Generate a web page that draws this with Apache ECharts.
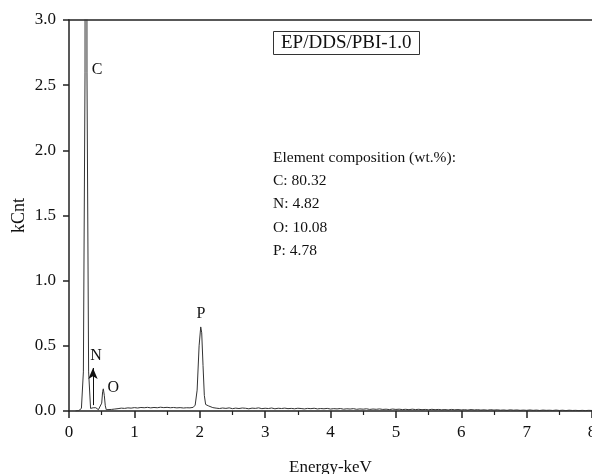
<!DOCTYPE html>
<html>
<head>
<meta charset="utf-8">
<script src="https://cdn.jsdelivr.net/npm/echarts@6/dist/echarts.min.js"></script>
<style>
  html, body { margin: 0; padding: 0; background: #fff; }
  #chart { width: 592px; height: 474px; }
</style>
</head>
<body>
<div id="chart"></div>
<script>
// EDS spectrum of EP/DDS/PBI-1.0: energy (keV) and counts (kCnt)
const energyKeV = [
  0.10, 0.15, 0.19, 0.22, 0.245, 0.26, 0.275, 0.30, 0.33, 0.35,
  0.37, 0.39, 0.41, 0.43, 0.45, 0.48, 0.50, 0.515, 0.525, 0.54,
  0.555, 0.57, 0.60, 0.65, 0.70, 0.75, 0.80, 0.85, 0.90, 0.95,
  1.00, 1.05, 1.10, 1.15, 1.20, 1.25, 1.30, 1.35, 1.40, 1.45,
  1.50, 1.55, 1.60, 1.65, 1.70, 1.75, 1.80, 1.85, 1.90, 1.93,
  1.96, 1.99, 2.015, 2.03, 2.05, 2.07, 2.09, 2.11, 2.13, 2.16,
  2.20, 2.25, 2.30, 2.35, 2.40, 2.45, 2.50, 2.55, 2.60, 2.65,
  2.70, 2.75, 2.80, 2.85, 2.90, 2.95, 3.00, 3.05, 3.10, 3.15,
  3.20, 3.25, 3.30, 3.35, 3.40, 3.45, 3.50, 3.55, 3.60, 3.65,
  3.70, 3.75, 3.80, 3.85, 3.90, 3.95, 4.00, 4.05, 4.10, 4.15,
  4.20, 4.25, 4.30, 4.35, 4.40, 4.45, 4.50, 4.55, 4.60, 4.65,
  4.70, 4.75, 4.80, 4.85, 4.90, 4.95, 5.00, 5.05, 5.10, 5.15,
  5.20, 5.25, 5.30, 5.35, 5.40, 5.45, 5.50, 5.55, 5.60, 5.65,
  5.70, 5.75, 5.80, 5.85, 5.90, 5.95, 6.00, 6.05, 6.10, 6.15,
  6.20, 6.25, 6.30, 6.35, 6.40, 6.45, 6.50, 6.55, 6.60, 6.65,
  6.70, 6.75, 6.80, 6.85, 6.90, 6.95, 7.00, 7.05, 7.10, 7.15,
  7.20, 7.25, 7.30, 7.35, 7.40, 7.45, 7.50, 7.55, 7.60, 7.65,
  7.70, 7.75, 7.80, 7.85, 7.90, 7.95, 8.00
];
const countsKCnt = [
  0.000, 0.003, 0.020, 0.300, 2.600, 14.00, 2.600, 0.300, 0.020, 0.012,
  0.025, 0.035, 0.025, 0.012, 0.010, 0.010, 0.060, 0.150, 0.170, 0.120,
  0.040, 0.010, 0.008, 0.012, 0.015, 0.018, 0.022, 0.020, 0.024, 0.022,
  0.026, 0.023, 0.027, 0.025, 0.028, 0.024, 0.027, 0.025, 0.029, 0.026,
  0.028, 0.025, 0.027, 0.024, 0.026, 0.023, 0.025, 0.024, 0.028, 0.045,
  0.160, 0.500, 0.645, 0.600, 0.350, 0.120, 0.050, 0.045, 0.040, 0.030,
  0.026, 0.022, 0.019, 0.023, 0.020, 0.024, 0.018, 0.022, 0.019, 0.023,
  0.021, 0.017, 0.022, 0.020, 0.024, 0.018, 0.021, 0.019, 0.023, 0.017,
  0.021, 0.019, 0.022, 0.018, 0.020, 0.017, 0.021, 0.019, 0.016, 0.020,
  0.018, 0.021, 0.016, 0.019, 0.017, 0.020, 0.015, 0.018, 0.016, 0.019,
  0.014, 0.017, 0.015, 0.018, 0.013, 0.016, 0.014, 0.017, 0.012, 0.015,
  0.013, 0.016, 0.012, 0.014, 0.011, 0.015, 0.012, 0.014, 0.011, 0.013,
  0.010, 0.014, 0.011, 0.013, 0.010, 0.012, 0.009, 0.013, 0.010, 0.012,
  0.009, 0.011, 0.008, 0.012, 0.009, 0.011, 0.008, 0.010, 0.007, 0.011,
  0.008, 0.010, 0.007, 0.009, 0.006, 0.010, 0.007, 0.009, 0.006, 0.008,
  0.005, 0.009, 0.006, 0.008, 0.005, 0.007, 0.005, 0.008, 0.005, 0.007,
  0.004, 0.007, 0.005, 0.006, 0.004, 0.007, 0.004, 0.006, 0.003, 0.006,
  0.004, 0.005, 0.003, 0.005, 0.003, 0.005, 0.004
];

// Peak labels: element, line energy (keV) and label height (kCnt)
const peakElements = ['C', 'N', 'O', 'P'];
const peakEnergies = [0.26, 0.367, 0.525, 2.018];
const peakLabelLevels = [2.62, 0.42, 0.18, 0.745];
const peakLabelShift = [11, 3, 10, 0];

// Composition summary (wt.%)
const compElements = ['C', 'N', 'O', 'P'];
const compWeights = ['80.32', '4.82', '10.08', '4.78'];

const sampleName = 'EP/DDS/PBI-1.0';
const xTicks = [0, 8, 1];
const yTicks = [0, 3, 0.5];

const FONT = 'Liberation Serif';
const INK = '#111';

const spectrum = energyKeV.map((e, i) => [e, countsKCnt[i]]);

const compText = ['Element composition (wt.%):']
  .concat(compElements.map((el, i) => el + ': ' + compWeights[i]))
  .join('\n');

const chart = echarts.init(document.getElementById('chart'), null, { renderer: 'canvas' });

chart.setOption({
  backgroundColor: '#fff',
  animation: false,
  title: [
    {
      text: sampleName,
      left: 273, top: 31,
      padding: [2, 8],
      borderColor: '#333', borderWidth: 1,
      textStyle: { fontFamily: FONT, fontSize: 19, fontWeight: 'normal', color: INK, lineHeight: 20 }
    },
    {
      text: compText,
      left: 273, top: 146,
      padding: 0,
      textStyle: { fontFamily: FONT, fontSize: 15.5, fontWeight: 'normal', color: INK, lineHeight: 23.3 }
    }
  ],
  grid: { left: 69, right: 0, top: 20, bottom: 63, containLabel: false, outerBoundsMode: 'none' },
  xAxis: [
    {
      type: 'value', min: xTicks[0], max: xTicks[1], interval: xTicks[2],
      name: 'Energy-keV', nameLocation: 'middle', nameGap: 48, nameMoveOverlap: false,
      nameTextStyle: { fontFamily: FONT, fontSize: 17, color: INK },
      axisLine: { show: true, onZero: false, lineStyle: { color: '#222', width: 1.5 } },
      axisTick: { show: true, inside: false, length: 7, lineStyle: { color: '#222', width: 1.5 } },
      minorTick: { show: true, splitNumber: 2, length: 4, lineStyle: { color: '#222', width: 1.2 } },
      axisLabel: { fontFamily: FONT, fontSize: 17, color: INK, margin: 13 },
      splitLine: { show: false }
    },
    {
      type: 'value', position: 'top', min: xTicks[0], max: xTicks[1],
      axisLine: { show: true, onZero: false, lineStyle: { color: '#222', width: 1.5 } },
      axisTick: { show: false }, axisLabel: { show: false }, splitLine: { show: false }
    }
  ],
  yAxis: {
    type: 'value', min: yTicks[0], max: yTicks[1], interval: yTicks[2],
    name: 'kCnt', nameLocation: 'middle', nameGap: 41, nameMoveOverlap: false,
    nameTextStyle: { fontFamily: FONT, fontSize: 18, color: INK },
    axisLine: { show: true, onZero: false, lineStyle: { color: '#222', width: 1.5 } },
    axisTick: { show: true, inside: false, length: 6, lineStyle: { color: '#222', width: 1.5 } },
    axisLabel: { fontFamily: FONT, fontSize: 17, color: INK, margin: 13,
      formatter: v => v.toFixed(1) },
    splitLine: { show: false }
  },
  series: [
    {
      type: 'line',
      data: spectrum,
      showSymbol: false,
      clip: true,
      lineStyle: { color: '#333', width: 1 },
      markPoint: {
        symbol: 'circle', symbolSize: 0,
        label: { show: true, position: 'inside', fontFamily: FONT, fontSize: 16, color: INK,
          formatter: p => p.name },
        data: peakElements.map((el, i) => ({
          name: el,
          coord: [peakEnergies[i], peakLabelLevels[i]],
          label: { offset: [peakLabelShift[i], 0] }
        }))
      },
      markLine: {
        silent: true,
        symbol: ['none', 'arrow'],
        symbolSize: [7, 11],
        label: { show: false },
        lineStyle: { color: '#111', width: 1, type: 'solid' },
        data: [[
          { coord: [peakEnergies[1], 0.045] },
          { coord: [peakEnergies[1], 0.33] }
        ]]
      }
    }
  ]
});
</script>
</body>
</html>
